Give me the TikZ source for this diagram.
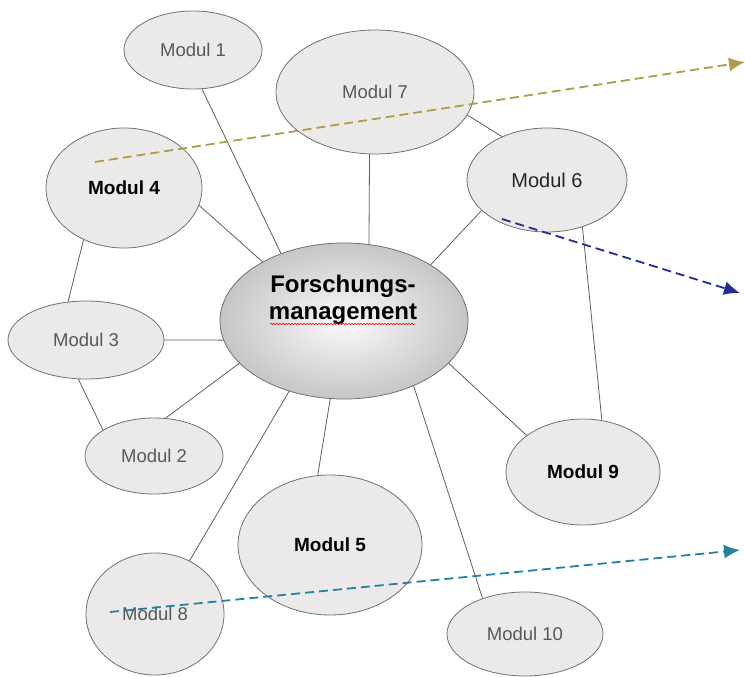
\documentclass[tikz,border=0pt]{standalone}
\usepackage{fontspec}
\setmainfont{Liberation Sans}
\usetikzlibrary{shapes.geometric,arrows.meta,decorations.pathmorphing}

\definecolor{fuell}{RGB}{236,234,233}
\definecolor{rand}{RGB}{112,112,112}
\definecolor{schrift}{RGB}{88,88,88}
\definecolor{oliv}{RGB}{176,156,72}
\definecolor{dunkelblau}{RGB}{36,44,150}
\definecolor{petrol}{RGB}{38,128,162}

\begin{document}
\begin{tikzpicture}[x=1pt, y=-1pt,
  modul/.style={draw=rand, fill=fuell, ellipse, inner sep=0pt, line width=0.8pt, text=schrift, font=\fontsize{18.5}{20}\selectfont},
  fett/.style={text=black, font=\bfseries\fontsize{19}{21}\selectfont},
  verb/.style={draw=rand!85!black, line width=0.8pt},
  pfeil/.style={dash pattern=on 9pt off 5pt, line width=1.8pt, -{Latex[length=16pt,width=14pt]}}]

\useasboundingbox (0,0) rectangle (745,677);

% Kern Forschungsmanagement
\node (fm) [draw=rand, ellipse, inner sep=0pt, line width=0.8pt, minimum width=248pt, minimum height=156pt, shade, inner color=gray!3, outer color=gray!45] at (344,321) {};
\node (fmtext) [align=center, font=\bfseries\fontsize{24}{27}\selectfont] at (343,300) {Forschungs-\\management};
\draw[red, line width=0.5pt, decorate, decoration={snake, amplitude=0.7pt, segment length=3pt}] (270,324) -- (415,324);

% Module oben
\node (m1) [modul, minimum width=138pt, minimum height=78pt] at (193,50) {Modul 1};
\node (m7) [modul, minimum width=198pt, minimum height=124pt] at (375,92) {Modul 7};
\node (m4) [modul, fett, minimum width=156pt, minimum height=120pt] at (124,188) {Modul 4};
\node (m6) [modul, text=black!85, font=\fontsize{20}{22}\selectfont, minimum width=160pt, minimum height=104pt] at (547,180) {Modul 6};

% Module links
\node (m3) [modul, minimum width=156pt, minimum height=78pt] at (86,340) {Modul 3};
\node (m2) [modul, minimum width=138pt, minimum height=76pt] at (154,456) {Modul 2};

% Module unten
\node (m5) [modul, fett, minimum width=184pt, minimum height=140pt] at (330,545) {Modul 5};
\node (m8) [modul, minimum width=138pt, minimum height=122pt] at (155,614) {Modul 8};
\node (m9) [modul, fett, minimum width=154pt, minimum height=106pt] at (583,472) {Modul 9};
\node (m10) [modul, minimum width=156pt, minimum height=84pt] at (525,634) {Modul 10};

% Verbindungen
\draw[verb] (m1.283) -- (fm.133);
\draw[verb] (m4.347) -- (fm.144);
\draw[verb] (m4.232) -- (m3.115);
\draw[verb] (m7.265) -- (fm.72);
\draw[verb] (m7.346) -- (m6.136);
\draw[verb] (m6.205) -- (fm.33);
\draw[verb] (m6.307) -- (m9.70);
\draw[verb] (fm.338) -- (m9.147);
\draw[verb] (fm.317) -- (m10.140);
\draw[verb] (fm.260) -- (m5.100);
\draw[verb] (fm.232) -- (m8.57);
\draw[verb] (fm.202) -- (m2.73);
\draw[verb] (fm.189) -- (m3.east);
\draw[verb] (m3.259) -- (m2.153);

% gestrichelte Pfeile
\coordinate (o1) at (95,162);
\coordinate (o2) at (745,62);
\coordinate (b1) at (502,219);
\coordinate (b2) at (740,293);
\coordinate (t1) at (110,612);
\coordinate (t2) at (740,550);
\draw[pfeil, oliv] (o1) -- (o2);
\draw[pfeil, dunkelblau] (b1) -- (b2);
\draw[pfeil, petrol] (t1) -- (t2);

\end{tikzpicture}
\end{document}
